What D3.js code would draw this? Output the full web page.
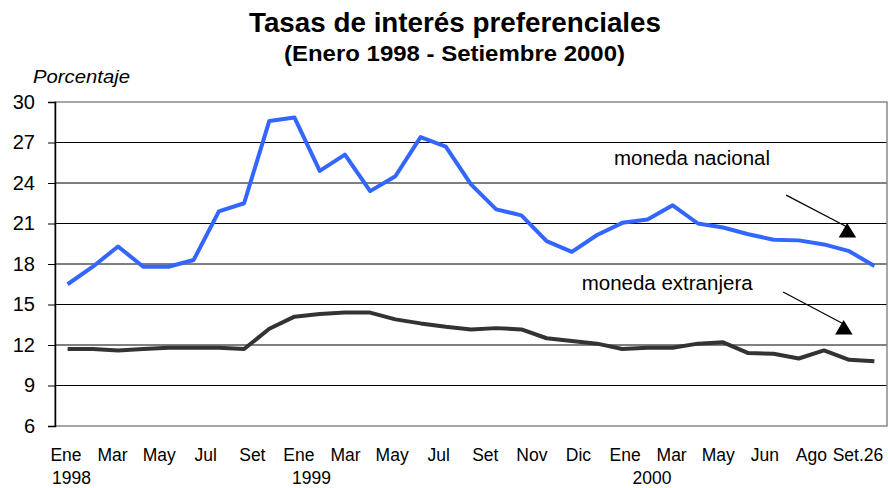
<!DOCTYPE html>
<html>
<head>
<meta charset="utf-8">
<script src="https://cdn.jsdelivr.net/npm/d3@7"></script>
<style>
  html, body { margin: 0; padding: 0; background: #fff; }
  text { font-family: "Liberation Sans", Arial, sans-serif; fill: #000; }
</style>
</head>
<body>
<svg id="chart" width="888" height="488"></svg>
<script>
// ---- data ----
const months = d3.range(33); // Enero 1998 .. Setiembre 2000 (monthly)
const monedaNacional = [16.5, 17.8, 19.3, 17.8, 17.8, 18.3, 21.9, 22.5, 28.6, 28.85, 24.9, 26.1,
  23.4, 24.5, 27.4, 26.7, 23.9, 22.05, 21.6, 19.7, 18.9, 20.15, 21.05, 21.3,
  22.35, 21.0, 20.7, 20.2, 19.8, 19.75, 19.45, 18.95, 17.85];
const monedaExtranjera = [11.7, 11.7, 11.6, 11.7, 11.8, 11.8, 11.8, 11.7, 13.2, 14.1, 14.3, 14.4,
  14.4, 13.9, 13.6, 13.35, 13.15, 13.25, 13.15, 12.5, 12.3, 12.1, 11.7, 11.8,
  11.8, 12.1, 12.2, 11.4, 11.35, 11.0, 11.6, 10.9, 10.8];
const xLabels = ["Ene", "Mar", "May", "Jul", "Set", "Ene", "Mar", "May", "Jul", "Set", "Nov", "Dic",
  "Ene", "Mar", "May", "Jun", "Ago", "Set.26"];
const yearLabels = ["1998", "1999", "2000"];
const yearAt = [0.12, 5.27, 12.58];      // position in label-slot units
const yTicks = [6, 9, 12, 15, 18, 21, 24, 27, 30];
const seriesNames = ["moneda nacional", "moneda extranjera"];
// annotation anchors in data units: [month, value]
const labelAt = [[21.67, 25.33], [20.39, 16.07]];
const arrowFrom = [[28.5, 23.1], [28.38, 15.93]];
const arrowTo = [[30.92, 21.04], [30.78, 13.85]];

// ---- layout ----
const svg = d3.select("#chart");
const M = { left: 55, right: 887, top: 102, bottom: 426 };
const x = d3.scaleLinear().domain([-0.5, 32.5]).range([M.left, M.right]);
const y = d3.scaleLinear().domain([6, 30]).range([M.bottom, M.top]);
const xl = d3.scaleLinear().domain([0, 17]).range([66, 858]);

// title
svg.append("text").attr("x", 455).attr("y", 32).attr("text-anchor", "middle")
  .attr("font-size", 27).attr("font-weight", "bold")
  .attr("textLength", 412).attr("lengthAdjust", "spacingAndGlyphs")
  .text("Tasas de interés preferenciales");
svg.append("text").attr("x", 454.5).attr("y", 61).attr("text-anchor", "middle")
  .attr("font-size", 22).attr("font-weight", "bold")
  .attr("textLength", 341).attr("lengthAdjust", "spacingAndGlyphs")
  .text("(Enero 1998 - Setiembre 2000)");
svg.append("text").attr("x", 33).attr("y", 83)
  .attr("font-size", 18.5).attr("font-style", "italic")
  .attr("textLength", 97).attr("lengthAdjust", "spacingAndGlyphs")
  .text("Porcentaje");

// plot frame & grid
svg.append("g").selectAll("line").data(yTicks.filter(t => t !== 6 && t !== 30)).join("line")
  .attr("x1", M.left).attr("x2", M.right)
  .attr("y1", d => y(d)).attr("y2", d => y(d))
  .attr("stroke", "#000").attr("stroke-width", 1);
svg.append("rect").attr("x", M.left).attr("y", M.top)
  .attr("width", M.right - M.left).attr("height", M.bottom - M.top)
  .attr("fill", "none").attr("stroke", "#8a8a8a").attr("stroke-width", 1.5);

// y axis
const yAxis = d3.axisLeft(y).tickValues(yTicks).tickSize(7).tickPadding(13);
const gy = svg.append("g").attr("transform", `translate(${M.left},0)`).call(yAxis);
gy.select(".domain").attr("stroke", "#000").attr("stroke-width", 1.5);
gy.selectAll(".tick line").attr("stroke", "#000");
gy.selectAll(".tick text").attr("font-size", 20).attr("font-family", "Liberation Sans, Arial, sans-serif")
  .attr("fill", "#000");

// x labels
svg.append("g").selectAll("text").data(xLabels).join("text")
  .attr("x", (d, i) => xl(i)).attr("y", 461)
  .attr("text-anchor", "middle").attr("font-size", 17.5)
  .text(d => d);
svg.append("g").selectAll("text").data(yearLabels).join("text")
  .attr("x", (d, i) => xl(yearAt[i])).attr("y", 484)
  .attr("text-anchor", "middle").attr("font-size", 17.5)
  .text(d => d);

// lines
const line = d3.line().x((d, i) => x(months[i])).y(d => y(d));
svg.append("path").datum(monedaExtranjera).attr("d", line)
  .attr("fill", "none").attr("stroke", "#333333").attr("stroke-width", 4)
  .attr("stroke-linejoin", "round");
svg.append("path").datum(monedaNacional).attr("d", line)
  .attr("fill", "none").attr("stroke", "#3366ff").attr("stroke-width", 4)
  .attr("stroke-linejoin", "round");

// annotations
svg.append("g").selectAll("text").data(seriesNames).join("text")
  .attr("x", (d, i) => x(labelAt[i][0])).attr("y", (d, i) => y(labelAt[i][1]))
  .attr("font-size", 20.5).text(d => d);
const ann = svg.append("g");
arrowFrom.forEach((f, i) => {
  const t = arrowTo[i];
  ann.append("line")
    .attr("x1", x(f[0])).attr("y1", y(f[1]))
    .attr("x2", x(t[0])).attr("y2", y(t[1]) + 4)
    .attr("stroke", "#000").attr("stroke-width", 1.2);
  const tx = x(t[0]), ty = y(t[1]);
  ann.append("path")
    .attr("d", `M${tx},${ty} L${tx - 8.5},${ty + 14.5} L${tx + 9},${ty + 14.5} Z`)
    .attr("fill", "#000");
});
</script>
</body>
</html>
